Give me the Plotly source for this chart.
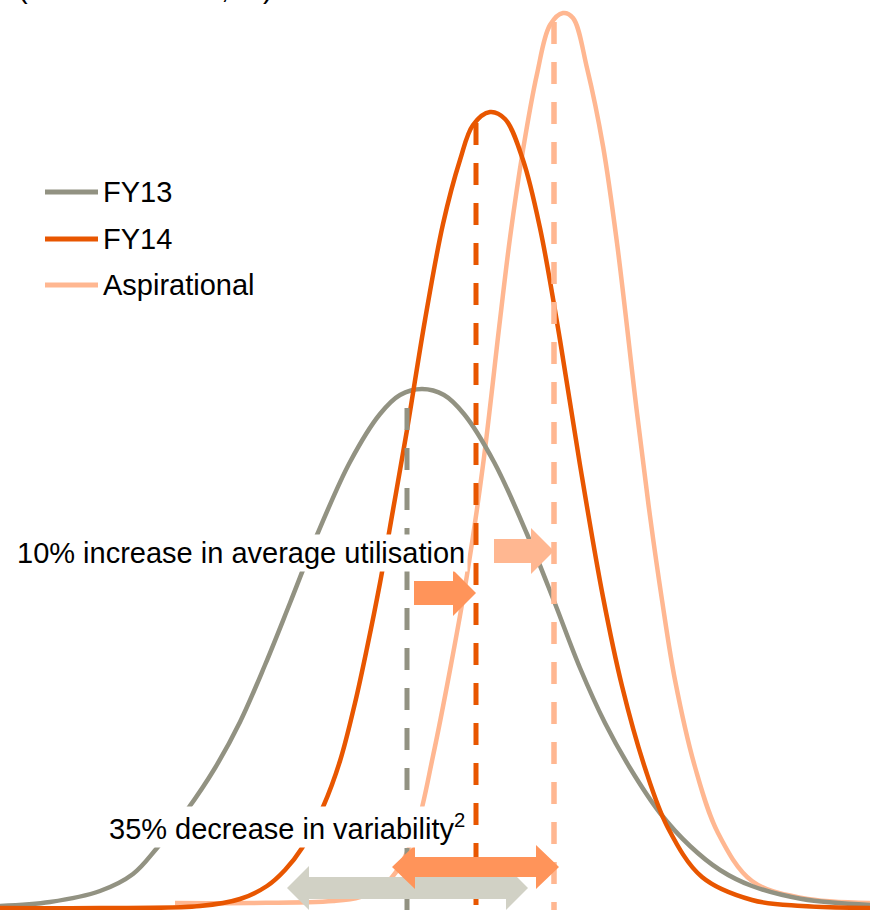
import plotly.graph_objects as go

# ---------------- data ----------------
# x = utilisation position, y = relative frequency (same units on both axes)
fy13_x = [0, 50, 100, 133, 157, 187, 215, 240, 265, 290, 317, 350, 380, 400, 422,
          444, 464, 494, 527, 554, 580, 605, 630, 660, 690, 720, 752, 802, 870]
fy13_y = [2, 6, 17, 34, 60, 98, 140, 186, 243, 305, 373, 446, 494, 513, 519,
          513, 494, 446, 374, 307, 240, 185, 140, 95, 62, 38, 22, 9, 3]

fy14_x = [0, 100, 200, 240, 267, 285, 302, 323, 340, 355, 367, 380, 393, 407, 425, 443,
          460, 473, 490, 505, 523, 540, 560, 580, 603, 622, 645, 668, 702, 752, 802, 870]
fy14_y = [0, 0, 2, 9, 22, 38, 60, 101, 147, 205, 260, 325, 398, 478, 588, 684,
          748, 783, 796, 789, 748, 680, 568, 443, 311, 222, 140, 80, 31, 8, 2, 0]

asp_x = [175, 250, 333, 360, 383, 400, 417, 433, 450, 467, 483, 500, 510, 523, 537, 550,
         563, 573, 587, 603, 617, 637, 650, 662, 675, 695, 718, 752, 802, 870]
asp_y = [5, 5, 7, 11, 22, 42, 82, 152, 238, 333, 443, 588, 670, 758, 834, 883,
         895, 890, 840, 762, 665, 495, 392, 308, 228, 141, 75, 27, 10, 5]

series_names = ["FY13", "FY14", "Aspirational"]
means_x = [407, 476, 554]          # average utilisation markers
means_top = [500, 785, 886]        # where the dashed marker meets its curve
axis_bottom = -2

shift_start = [414, 494]           # "10% increase" arrows
shift_end = [476, 554]
shift_y = [315, 357]

spread_center = [407.5, 475.5]     # variability (spread) arrows
spread_half = [120.5, 83.5]
spread_y = [20, 41]

legend_y = [716, 669, 623]

title_text = "(Fleet utilisation, %)"
ann_shift = "10% increase in average utilisation"
ann_var = "35% decrease in variability<sup>2</sup>"

# ---------------- styling ----------------
C_GREY = "#929282"
C_DARK = "#E85600"
C_LIGHT = "#FFB791"
C_ARROW = "#FF945A"
C_ARROW_GREY = "#D1D1C5"
colors = [C_GREY, C_DARK, C_LIGHT]
FONT = "Arial, 'Liberation Sans', sans-serif"
FS = 29

fig = go.Figure()

curves = {"FY13": (fy13_x, fy13_y), "FY14": (fy14_x, fy14_y), "Aspirational": (asp_x, asp_y)}
for name in ["Aspirational", "FY13", "FY14"]:
    i = series_names.index(name)
    xs, ys = curves[name]
    fig.add_trace(go.Scatter(x=xs, y=ys, mode="lines", name=name,
                             line=dict(color=colors[i], width=4.5, shape="spline", smoothing=1.0),
                             hoverinfo="skip", showlegend=False))

# dashed mean markers
for i in range(3):
    fig.add_trace(go.Scatter(x=[means_x[i], means_x[i]], y=[means_top[i], axis_bottom],
                             mode="lines",
                             line=dict(color=colors[i], width=5.5 if i == 2 else 5, dash="22px,18px"),
                             hoverinfo="skip", showlegend=False))


def right_arrow(x0, x1, yc, b, hh, L):
    return (f"M{x0},{yc-b} L{x1-L},{yc-b} L{x1-L},{yc-hh} L{x1},{yc} "
            f"L{x1-L},{yc+hh} L{x1-L},{yc+b} L{x0},{yc+b} Z")


def double_arrow(x0, x1, yc, b, hh, L):
    return (f"M{x0},{yc} L{x0+L},{yc+hh} L{x0+L},{yc+b} L{x1-L},{yc+b} L{x1-L},{yc+hh} "
            f"L{x1},{yc} L{x1-L},{yc-hh} L{x1-L},{yc-b} L{x0+L},{yc-b} L{x0+L},{yc-hh} Z")


shapes = []
spread_cols = [C_ARROW_GREY, C_ARROW]
spread_dims = [(11, 22, 22), (10, 22, 23)]
for i in range(2):
    b, hh, L = spread_dims[i]
    shapes.append(dict(type="path", xref="x", yref="y",
                       path=double_arrow(spread_center[i] - spread_half[i],
                                         spread_center[i] + spread_half[i],
                                         spread_y[i], b, hh, L),
                       fillcolor=spread_cols[i], line=dict(width=0), layer="above"))
shift_cols = [C_ARROW, C_LIGHT]
for i in range(2):
    shapes.append(dict(type="path", xref="x", yref="y",
                       path=right_arrow(shift_start[i], shift_end[i], shift_y[i], 12, 23, 23),
                       fillcolor=shift_cols[i], line=dict(width=0), layer="above"))

for i in range(3):
    shapes.append(dict(type="line", xref="x", yref="y", x0=45, x1=98,
                       y0=legend_y[i], y1=legend_y[i],
                       line=dict(color=colors[i], width=5), layer="above"))

annotations = []
for i in range(3):
    annotations.append(dict(x=101, y=legend_y[i], xref="x", yref="y", text=series_names[i],
                            showarrow=False, xanchor="left", yanchor="middle",
                            font=dict(family=FONT, size=FS, color="#000000")))

annotations.append(dict(x=14, y=355, xref="x", yref="y", text=ann_shift, showarrow=False,
                        xanchor="left", yanchor="middle", bgcolor="white", borderpad=2,
                        font=dict(family=FONT, size=FS, color="#000000")))
annotations.append(dict(x=106, y=81, xref="x", yref="y", text=ann_var, showarrow=False,
                        xanchor="left", yanchor="middle", bgcolor="white", borderpad=2,
                        font=dict(family=FONT, size=FS, color="#000000")))
annotations.append(dict(x=16, y=1, xref="x", yref="paper", text=title_text, showarrow=False,
                        xanchor="left", yanchor="bottom", yshift=-6,
                        font=dict(family=FONT, size=FS, color="#000000")))

fig.update_layout(
    width=870, height=910,
    margin=dict(l=0, r=0, t=0, b=0),
    paper_bgcolor="white", plot_bgcolor="white",
    showlegend=False,
    xaxis=dict(range=[0, 870], visible=False, fixedrange=True),
    yaxis=dict(range=[-2, 908], visible=False, fixedrange=True),
    shapes=shapes, annotations=annotations,
)

fig.write_html("out.html",
               config={"displayModeBar": False, "staticPlot": True},
               post_script="document.body.style.margin='0';document.body.style.padding='0';")
